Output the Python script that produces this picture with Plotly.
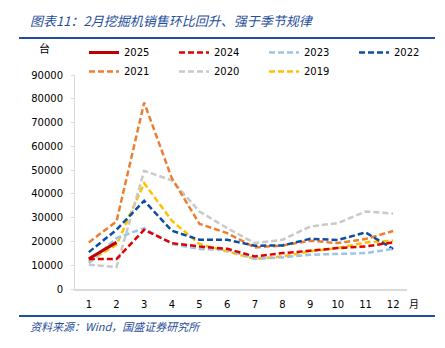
import plotly.graph_objects as go

months = list(range(1, 13))
month_labels = [str(m) for m in months]

s2025 = [12700, 19600]
s2024 = [12600, 12600, 24900, 19300, 17900, 16900, 13700, 15100, 16100, 17200, 17900, 19600]
s2023 = [10900, 21400, 25600, 18900, 16800, 16500, 12700, 13300, 14400, 14700, 15100, 16900]
s2022 = [15500, 24900, 37100, 24500, 20700, 20700, 18200, 18300, 21100, 20600, 23800, 16800]
s2021 = [19600, 28400, 78400, 46600, 27400, 23500, 17500, 18300, 20300, 19300, 21000, 24400]
s2020 = [10200, 9200, 49700, 45700, 32600, 25600, 19300, 20700, 26300, 27700, 32600, 31700]
s2019 = [11600, 18600, 44500, 28700, 18900, 15800, 12700, 13700, 15800, 17200, 19600, 20300]

y_ticks = [0, 10000, 20000, 30000, 40000, 50000, 60000, 70000, 80000, 90000]

series = [
    ("2025", s2025, "#c00000", "solid", 3),
    ("2024", s2024, "#e00000", "6px,3px", 2.5),
    ("2023", s2023, "#9dc3e6", "6px,3px", 2.5),
    ("2022", s2022, "#0a4ea3", "6px,3px", 2.5),
    ("2021", s2021, "#ed7d31", "6px,3px", 2.5),
    ("2020", s2020, "#c9c9c9", "6px,3px", 2.5),
    ("2019", s2019, "#ffc000", "6px,3px", 2.5),
]
names = [s[0] for s in series]

fig = go.Figure()
for name, vals, color, dash, w in series[::-1]:
    fig.add_trace(go.Scatter(
        x=months[:len(vals)], y=vals, mode="lines", name=name,
        line=dict(color=color, dash=dash, width=w),
        legendrank=names.index(name),
    ))

W, H = 445, 348
PL, PR = 75, 407          # plot area pixel extent (x)
T, B = 75, 59
ph = H - T - B

def px(x):
    return x / W

def py(y):
    return (H - B - y) / ph

blue = "#1f4e9c"
font_base = "DejaVu Sans"
cjk = "Noto Sans CJK SC"

fig.update_layout(
    width=W, height=H,
    margin=dict(l=0, r=0, t=T, b=B, autoexpand=False),
    paper_bgcolor="white", plot_bgcolor="white",
    font=dict(family=font_base, size=10, color="#000000"),
    showlegend=True,
    legend=dict(
        orientation="h", x=px(84), y=py(38), xanchor="left", yanchor="top",
        entrywidth=45, entrywidthmode="pixels",
        font=dict(family=font_base, size=10, color="#000000"),
        traceorder="normal", bgcolor="rgba(0,0,0,0)", tracegroupgap=0,
    ),
    xaxis=dict(
        domain=[PL / W, PR / W],
        range=[0.5, 12.5], tickmode="array", tickvals=months, ticktext=month_labels,
        showgrid=False, zeroline=False, showline=True, linecolor="#d9d9d9", linewidth=1.5,
        ticks="", tickfont=dict(family=font_base, size=10), ticklabelstandoff=5,
        automargin=False,
    ),
    yaxis=dict(
        range=[0, 90000], tickmode="array", tickvals=y_ticks,
        ticktext=[str(v) for v in y_ticks],
        showgrid=False, zeroline=False, showline=True, linecolor="#d9d9d9", linewidth=1,
        ticks="outside", ticklen=3, tickcolor="#d9d9d9",
        tickfont=dict(family=font_base, size=10), ticklabelstandoff=6,
        automargin=False,
    ),
)

fig.add_annotation(text="<i>图表11：2月挖掘机销售环比回升、强于季节规律</i>",
                   xref="paper", yref="paper", x=px(28), y=py(20),
                   xanchor="left", yanchor="middle", showarrow=False,
                   font=dict(family=cjk, size=13, color=blue))
fig.add_annotation(text="<i>资料来源：Wind，国盛证券研究所</i>",
                   xref="paper", yref="paper", x=px(28), y=py(326),
                   xanchor="left", yanchor="middle", showarrow=False,
                   font=dict(family=cjk, size=11, color=blue))
fig.add_annotation(text="台", xref="paper", yref="paper", x=px(44), y=py(48),
                   xanchor="center", yanchor="middle", showarrow=False,
                   font=dict(family=cjk, size=11, color="#000000"))
fig.add_annotation(text="月", xref="paper", yref="paper", x=px(414), y=py(303),
                   xanchor="center", yanchor="middle", showarrow=False,
                   font=dict(family=cjk, size=10, color="#000000"))

fig.add_shape(type="line", xref="paper", yref="paper", x0=px(19), x1=px(435),
              y0=py(38), y1=py(38), line=dict(color=blue, width=2))
fig.add_shape(type="line", xref="paper", yref="paper", x0=px(19), x1=px(435),
              y0=py(316), y1=py(316), line=dict(color=blue, width=2))

fig.write_html("out.html")
